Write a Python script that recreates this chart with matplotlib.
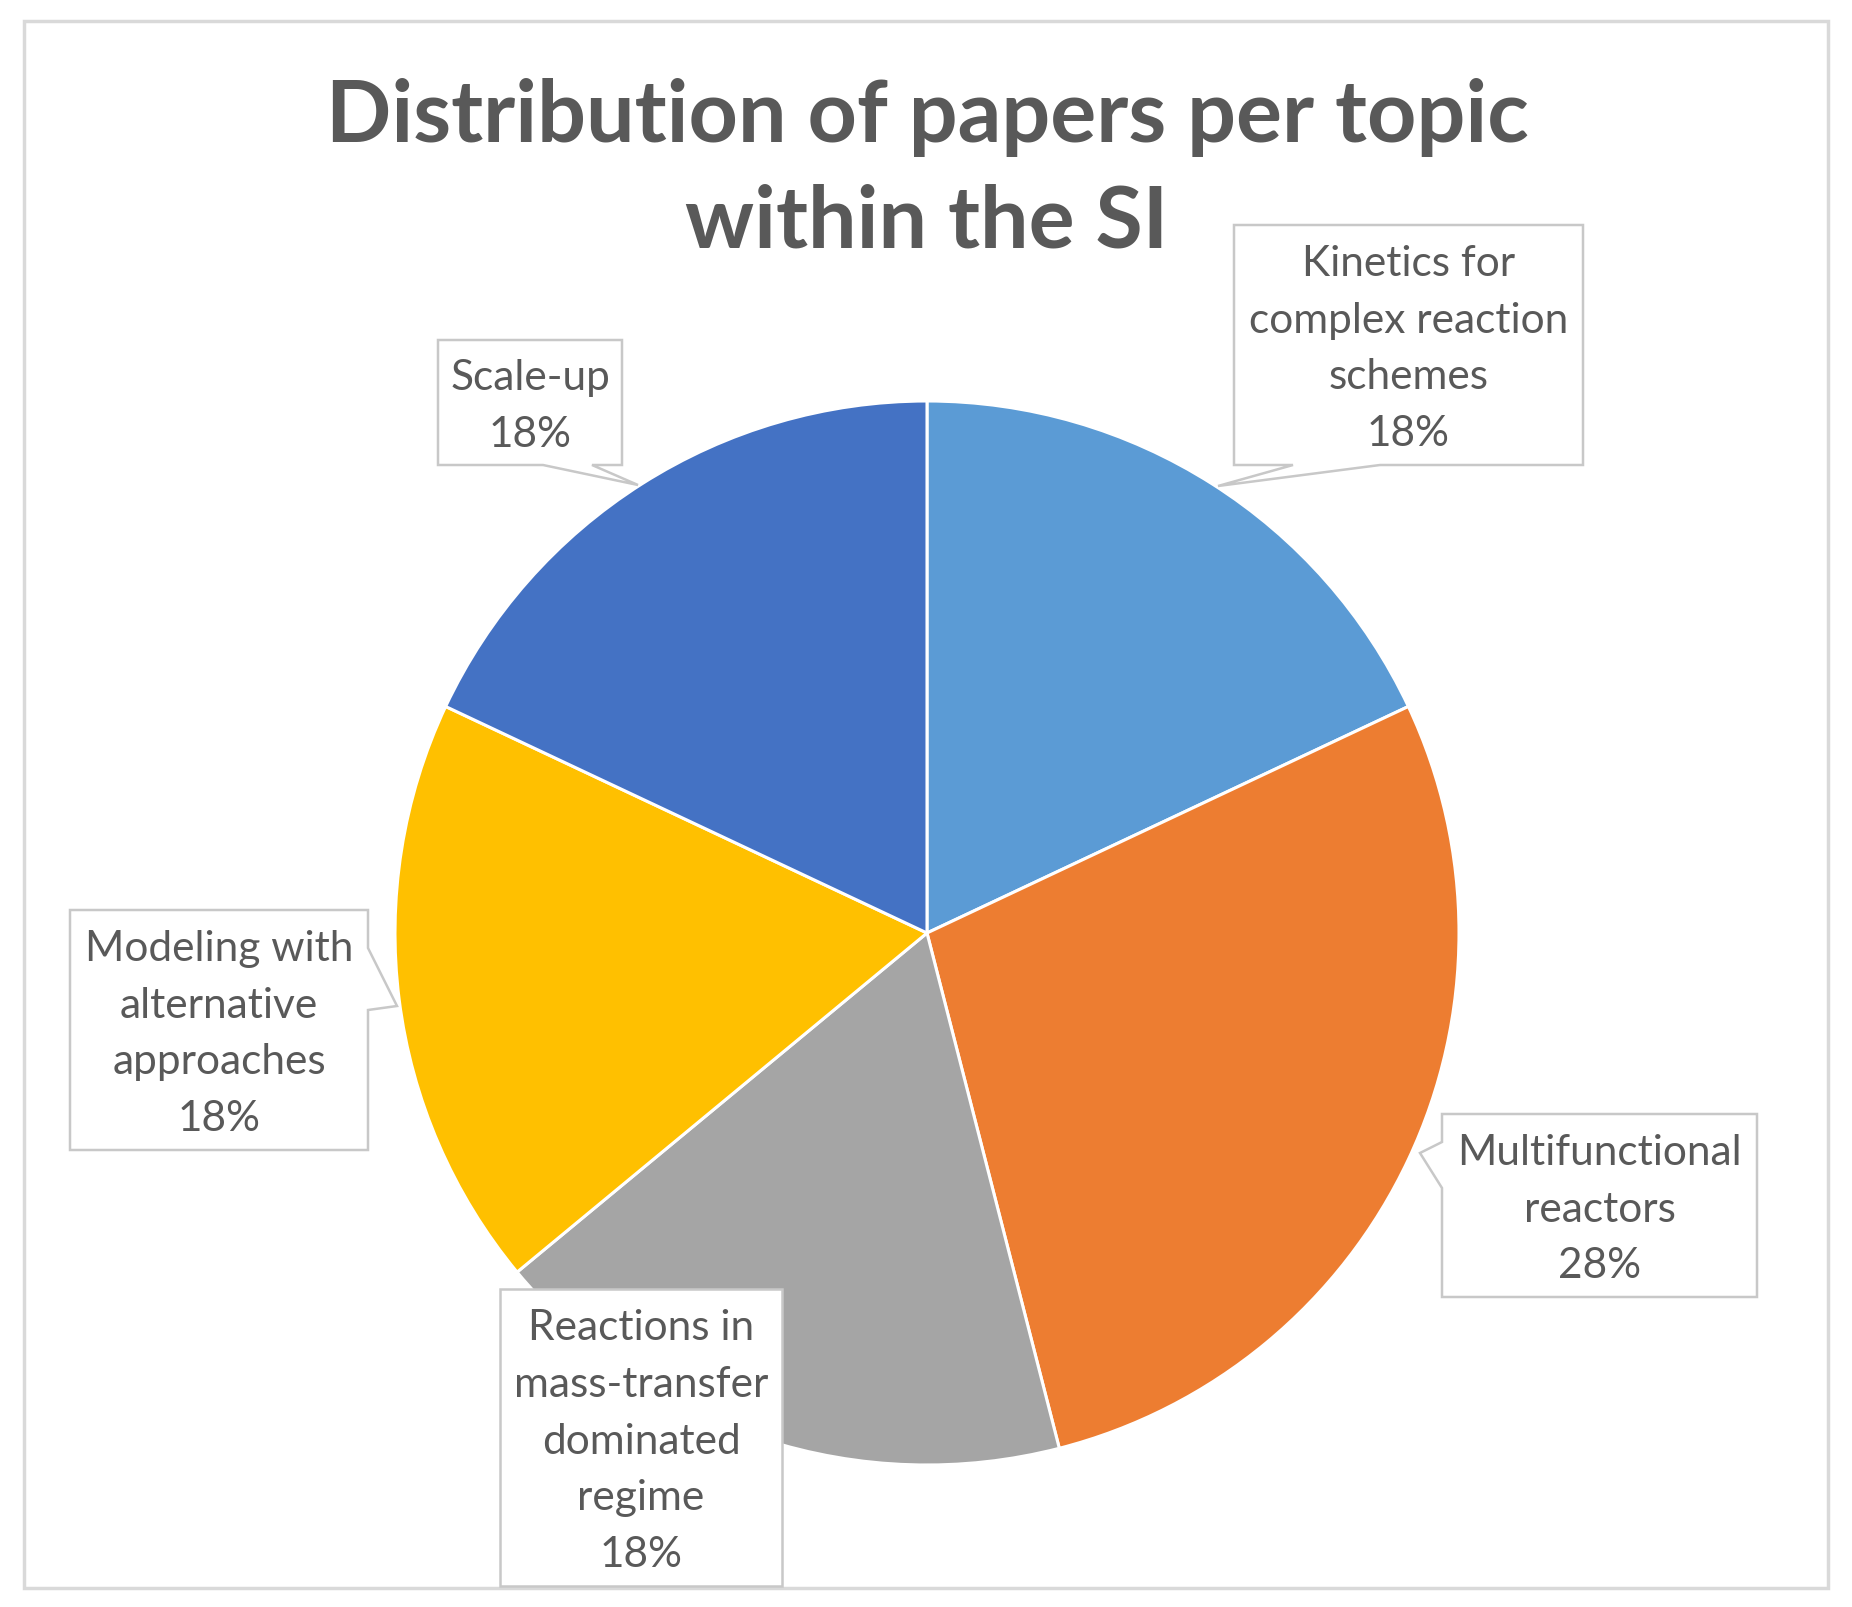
import matplotlib.pyplot as plt
from matplotlib.patches import Polygon

# data
topics = ["Kinetics for\ncomplex reaction\nschemes",
          "Multifunctional\nreactors",
          "Reactions in\nmass-transfer\ndominated\nregime",
          "Modeling with\nalternative\napproaches",
          "Scale-up"]
shares = [18, 28, 18, 18, 18]
colors = ["#5B9BD5", "#ED7D31", "#A5A5A5", "#FFC000", "#4472C4"]
title = "Distribution of papers per topic\nwithin the SI"

W, H = 1852, 1607
cx, cy, r = 927, 933, 532   # pie centre and radius in pixels (y down)

# callout outlines (pixels, y down), one per topic
callouts = [
    [(1234, 225), (1583, 225), (1583, 465), (1380, 465), (1218, 486), (1293, 465), (1234, 465)],
    [(1442, 1114), (1757, 1114), (1757, 1297), (1442, 1297), (1442, 1188), (1420, 1153), (1442, 1142)],
    [(500, 1289), (782, 1289), (782, 1586), (500, 1586)],
    [(70, 910), (368, 910), (368, 948), (397, 1006), (368, 1010), (368, 1150), (70, 1150)],
    [(438, 340), (622, 340), (622, 465), (592, 465), (638, 485), (543, 465), (438, 465)],
]
boxes = [(1234, 225, 1583, 465), (1442, 1114, 1757, 1297), (500, 1289, 782, 1586),
         (70, 910, 368, 1150), (438, 340, 622, 465)]

plt.rcParams['font.family'] = ['Lato', 'DejaVu Sans']
grey = "#595959"

fig = plt.figure(figsize=(W / 100, H / 100), dpi=100)

# pie axes sized so radius 1 maps to r pixels
ax = fig.add_axes([(cx - r) / W, (H - cy - r) / H, 2 * r / W, 2 * r / H])
ax.pie(shares, colors=colors, startangle=90, counterclock=False, radius=1,
       wedgeprops=dict(edgecolor="white", linewidth=2.2))
ax.set_xlim(-1, 1)
ax.set_ylim(-1, 1)
ax.axis("off")

# overlay in pixel coordinates for frame, title and callouts
ov = fig.add_axes([0, 0, 1, 1])
ov.set_xlim(0, W)
ov.set_ylim(H, 0)
ov.axis("off")
ov.add_patch(Polygon([(24, 21), (1828, 21), (1828, 1588), (24, 1588)], closed=True,
                     fill=False, edgecolor="#D9D9D9", linewidth=2.5))

ov.text(927, 170, title, ha="center", va="center", fontsize=62, fontweight="bold",
        color=grey, linespacing=1.42)

for name, pct, shape, (x0, y0, x1, y1) in zip(topics, shares, callouts, boxes):
    ov.add_patch(Polygon(shape, closed=True, facecolor="white", edgecolor="#C8C8C8",
                         linewidth=1.8, zorder=3))
    ov.text((x0 + x1) / 2, (y0 + y1) / 2 + 4, f"{name}\n{pct}%", ha="center", va="center",
            fontsize=30.5, color=grey, linespacing=1.6, zorder=4)

fig.savefig("out.png", dpi=100, facecolor="white")
